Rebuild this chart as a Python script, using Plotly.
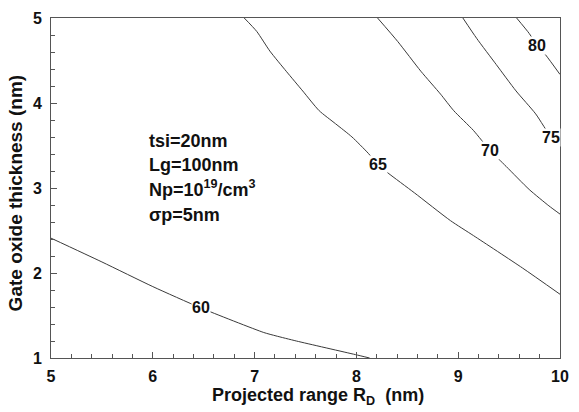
import plotly.graph_objects as go

# Contour lines (x: projected range R_D nm, y: gate oxide thickness nm)
c60_x = [5.0, 5.5, 6.0, 6.47, 7.09, 7.21, 7.41, 7.99, 8.13]
c60_y = [2.41, 2.13, 1.84, 1.59, 1.30, 1.26, 1.20, 1.04, 1.00]
c65_x = [6.898, 7.021, 7.150, 7.311, 7.473, 7.634, 7.795, 7.956, 8.117, 8.214, 8.311, 8.569, 8.924, 9.15, 9.63, 10.0]
c65_y = [5.000, 4.842, 4.611, 4.373, 4.141, 3.910, 3.756, 3.601, 3.408, 3.272, 3.176, 2.944, 2.616, 2.44, 2.06, 1.75]
c70_x = [8.208, 8.407, 8.633, 8.827, 8.956, 9.149, 9.310, 9.471, 9.697, 9.891, 10.0]
c70_y = [5.000, 4.722, 4.374, 4.104, 3.910, 3.678, 3.446, 3.254, 2.983, 2.790, 2.693]
c75_x = [9.046, 9.181, 9.374, 9.568, 9.761, 9.916, 10.0]
c75_y = [5.000, 4.761, 4.452, 4.142, 3.872, 3.594, 3.52]
c80_x = [9.574, 9.697, 9.778, 9.858, 10.0]
c80_y = [5.000, 4.819, 4.672, 4.567, 4.336]

level_names = ["60", "65", "70", "75", "80"]
label_x = [6.47, 8.214, 9.31, 9.916, 9.778]
label_y = [1.59, 3.272, 3.446, 3.594, 4.672]

info_lines = ["tsi=20nm", "Lg=100nm", "Np=10<sup>19</sup>/cm<sup>3</sup>", "σp=5nm"]
info_y = [3.55, 3.27, 2.99, 2.68]
info_x = 5.94

x_ticks = [5, 6, 7, 8, 9, 10]
y_ticks = [1, 2, 3, 4, 5]

FONT = "Liberation Sans, Arial, sans-serif"
LINE = "#3a3a3a"
AX = "#555555"

fig = go.Figure()
for xs, ys in [(c60_x, c60_y), (c65_x, c65_y), (c70_x, c70_y), (c75_x, c75_y), (c80_x, c80_y)]:
    fig.add_trace(go.Scatter(x=xs, y=ys, mode="lines",
                             line=dict(color=LINE, width=1, shape="spline", smoothing=0.6),
                             showlegend=False, hoverinfo="skip"))

annotations = []
for t, lx, ly in zip(level_names, label_x, label_y):
    annotations.append(dict(x=lx, y=ly, xref="x", yref="y", text="<b>%s</b>" % t, showarrow=False,
                            font=dict(family=FONT, size=16, color="#111"), bgcolor="white", borderpad=0))
for t, iy in zip(info_lines, info_y):
    annotations.append(dict(x=info_x, y=iy, xref="x", yref="y", text="<b>%s</b>" % t, showarrow=False,
                            xanchor="left", yanchor="middle", font=dict(family=FONT, size=18, color="#111")))
annotations.append(dict(x=0.525, y=-0.112, xref="paper", yref="paper", xanchor="center", yanchor="middle",
                        text="<b>Projected range R<sub>D</sub>  (nm)</b>", showarrow=False,
                        font=dict(family=FONT, size=18, color="#111")))
annotations.append(dict(x=-0.0695, y=0.486, xref="paper", yref="paper", xanchor="center", yanchor="middle",
                        text="<b>Gate oxide thickness (nm)</b>", showarrow=False, textangle=-90,
                        font=dict(family=FONT, size=19, color="#111")))

fig.update_layout(
    width=579, height=412,
    margin=dict(l=51, r=10, t=13, b=54),
    paper_bgcolor="white", plot_bgcolor="white",
    font=dict(family=FONT, color="#111"),
    annotations=annotations,
    xaxis=dict(range=[5, 10], tickvals=x_ticks, ticktext=["<b>%d</b>" % v for v in x_ticks],
               ticks="inside", ticklen=6, tickcolor=AX, showgrid=False, zeroline=False,
               showline=True, linecolor=AX, linewidth=1, mirror=True,
               tickfont=dict(family=FONT, size=16, color="#111"), ticklabelstandoff=4,
               minor=dict(ticks="inside", ticklen=4, dtick=0.2, tickcolor=AX, showgrid=False)),
    yaxis=dict(range=[1, 5], tickvals=y_ticks, ticktext=["<b>%d</b>" % v for v in y_ticks],
               ticks="inside", ticklen=6, tickcolor=AX, showgrid=False, zeroline=False,
               showline=True, linecolor=AX, linewidth=1, mirror=True,
               tickfont=dict(family=FONT, size=16, color="#111"), ticklabelstandoff=5,
               minor=dict(ticks="inside", ticklen=4, dtick=0.2, tickcolor=AX, showgrid=False)),
)

fig.write_html("out.html")
